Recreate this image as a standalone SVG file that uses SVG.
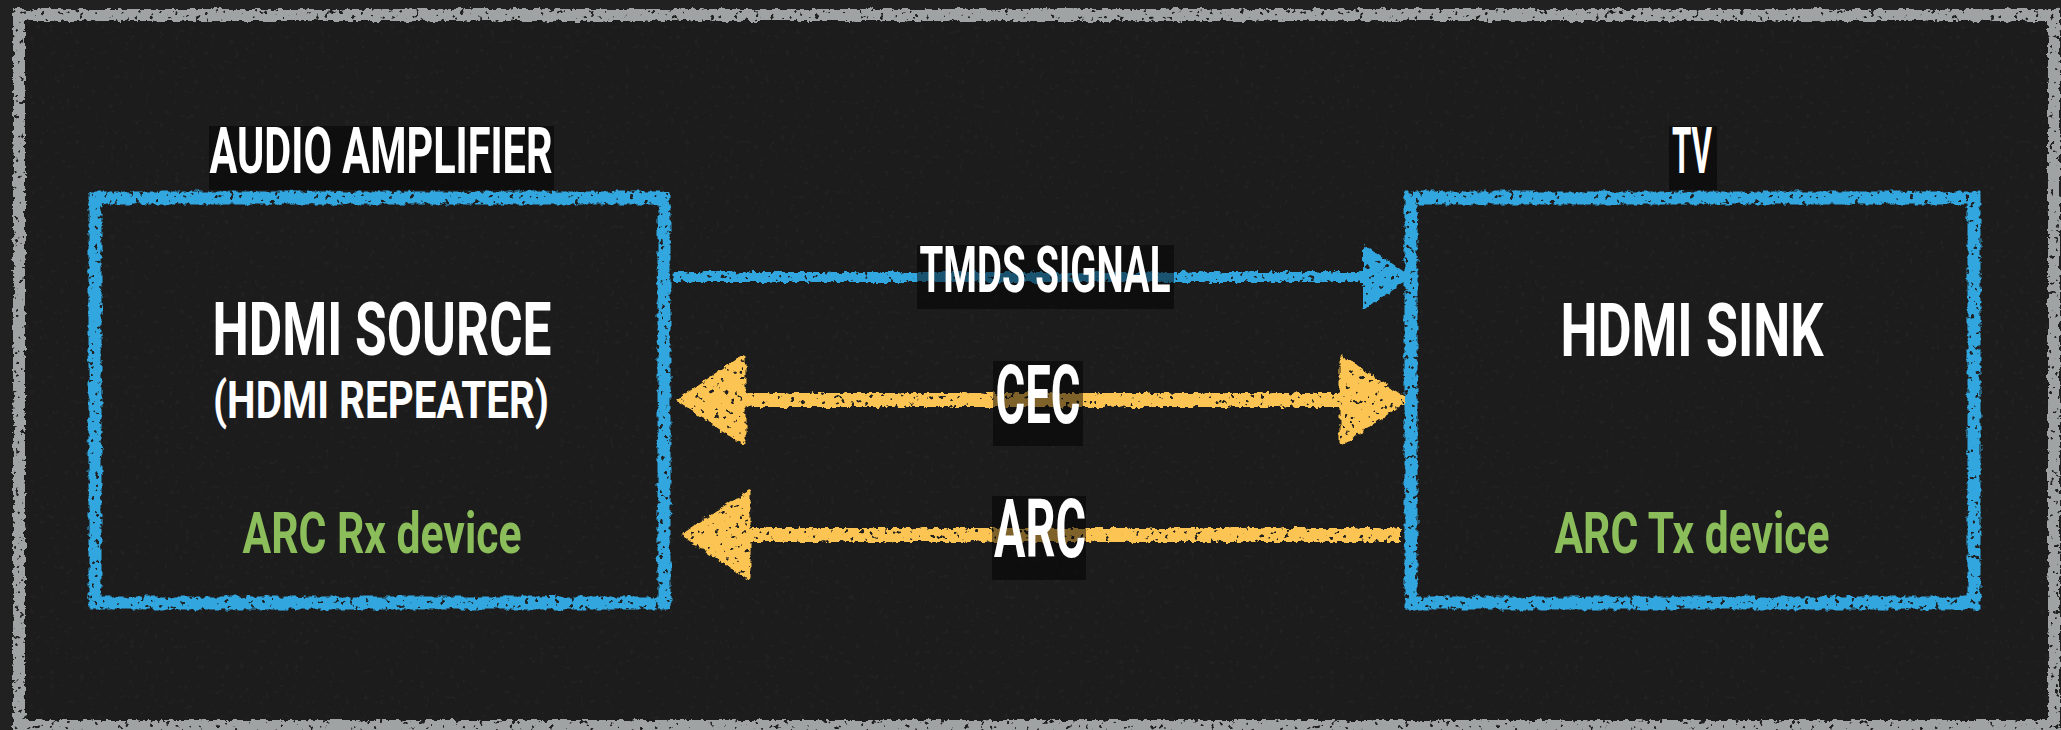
<svg xmlns="http://www.w3.org/2000/svg" width="2061" height="730" viewBox="0 0 2061 730">
  <defs>
    <style>
      .lbl { font-family: Roboto, "Liberation Sans", sans-serif; font-weight: 700; fill: #ffffff; text-anchor: middle; }
      .sub { font-family: Roboto, "Liberation Sans", sans-serif; font-weight: 700; fill: #8bbd5b; text-anchor: middle; }
      .tag { fill: #000000; fill-opacity: 0.5; }
      .box { fill: none; stroke: #33a6de; stroke-width: 13; }
      .blue { fill: none; stroke: #33a6de; stroke-width: 10; }
      .gold { fill: none; stroke: #fcc553; stroke-width: 14; }
      .head-gold { fill: #fcc553; stroke: #fcc553; stroke-width: 5; stroke-linejoin: round; }
      .head-blue { fill: #33a6de; stroke: #33a6de; stroke-width: 4; stroke-linejoin: round; }
    </style>
    <!-- rough chalk edges with sparse dropouts -->
    <filter id="chalk" filterUnits="userSpaceOnUse" x="0" y="0" width="2061" height="730">
      <feTurbulence type="fractalNoise" baseFrequency="0.16" numOctaves="3" seed="3" result="noise"/>
      <feDisplacementMap in="SourceGraphic" in2="noise" scale="6" xChannelSelector="R" yChannelSelector="G" result="rough"/>
      <feTurbulence type="fractalNoise" baseFrequency="0.2" numOctaves="2" seed="11" result="n2"/>
      <feColorMatrix in="n2" type="matrix" values="0 0 0 0 0  0 0 0 0 0  0 0 0 0 0  0 0 0 -16 11.6" result="holes"/>
      <feComposite in="rough" in2="holes" operator="in"/>
    </filter>
    <marker id="goldHead" markerUnits="userSpaceOnUse" markerWidth="80" markerHeight="100" refX="0" refY="42" orient="auto-start-reverse" overflow="visible">
      <path class="head-gold" d="M0,0 L63,42 L0,84 Z"/>
    </marker>
    <marker id="blueHead" markerUnits="userSpaceOnUse" markerWidth="60" markerHeight="70" refX="0" refY="30" orient="auto" overflow="visible">
      <path class="head-blue" d="M0,0 L43,30 L0,60 Z"/>
    </marker>
  </defs>

  <!-- board -->
  <rect x="0" y="0" width="2061" height="730" fill="#212121"/>
  <rect x="19" y="15" width="2035" height="711" fill="#1a1a1a" stroke="#9fa3a3" stroke-width="12" filter="url(#chalk)"/>

  <!-- connectors -->
  <g id="connectors" filter="url(#chalk)">
    <path id="tmds" class="blue" d="M673,277 L1365,277" marker-end="url(#blueHead)"/>
    <path id="cec" class="gold" d="M743,400 L1342,400" marker-start="url(#goldHead)" marker-end="url(#goldHead)"/>
    <path id="arc" class="gold" d="M748,535 L1400,535" marker-start="url(#goldHead)"/>
  </g>

  <!-- connector labels -->
  <g id="label-tmds">
    <rect class="tag" x="917" y="245" width="257" height="64"/>
    <text class="lbl" x="1045" y="292" font-size="64" textLength="251" lengthAdjust="spacingAndGlyphs">TMDS SIGNAL</text>
  </g>
  <g id="label-cec">
    <rect class="tag" x="993" y="361" width="90" height="85"/>
    <text class="lbl" x="1038" y="423" font-size="82" textLength="85" lengthAdjust="spacingAndGlyphs">CEC</text>
  </g>
  <g id="label-arc">
    <rect class="tag" x="992" y="496" width="94" height="84"/>
    <text class="lbl" x="1040" y="557" font-size="82" textLength="92" lengthAdjust="spacingAndGlyphs">ARC</text>
  </g>

  <!-- source node -->
  <g id="node-source">
    <rect class="box" x="95" y="198" width="569" height="405" filter="url(#chalk)"/>
    <rect class="tag" x="209" y="126" width="345" height="64"/>
    <text class="lbl" x="381" y="173" font-size="64" textLength="343" lengthAdjust="spacingAndGlyphs">AUDIO AMPLIFIER</text>
    <text class="lbl" x="382" y="355" font-size="75" textLength="339" lengthAdjust="spacingAndGlyphs">HDMI SOURCE</text>
    <text class="lbl" x="381" y="418" font-size="52" textLength="336" lengthAdjust="spacingAndGlyphs">(HDMI REPEATER)</text>
    <text class="sub" x="382" y="553" font-size="58" textLength="279" lengthAdjust="spacingAndGlyphs">ARC Rx device</text>
  </g>

  <!-- sink node -->
  <g id="node-sink">
    <rect class="box" x="1411" y="198" width="563" height="405" filter="url(#chalk)"/>
    <rect class="tag" x="1669" y="126" width="48" height="64"/>
    <text class="lbl" x="1692" y="173" font-size="64" textLength="40" lengthAdjust="spacingAndGlyphs">TV</text>
    <text class="lbl" x="1692" y="356" font-size="75" textLength="263" lengthAdjust="spacingAndGlyphs">HDMI SINK</text>
    <text class="sub" x="1692" y="553" font-size="58" textLength="275" lengthAdjust="spacingAndGlyphs">ARC Tx device</text>
  </g>
</svg>
